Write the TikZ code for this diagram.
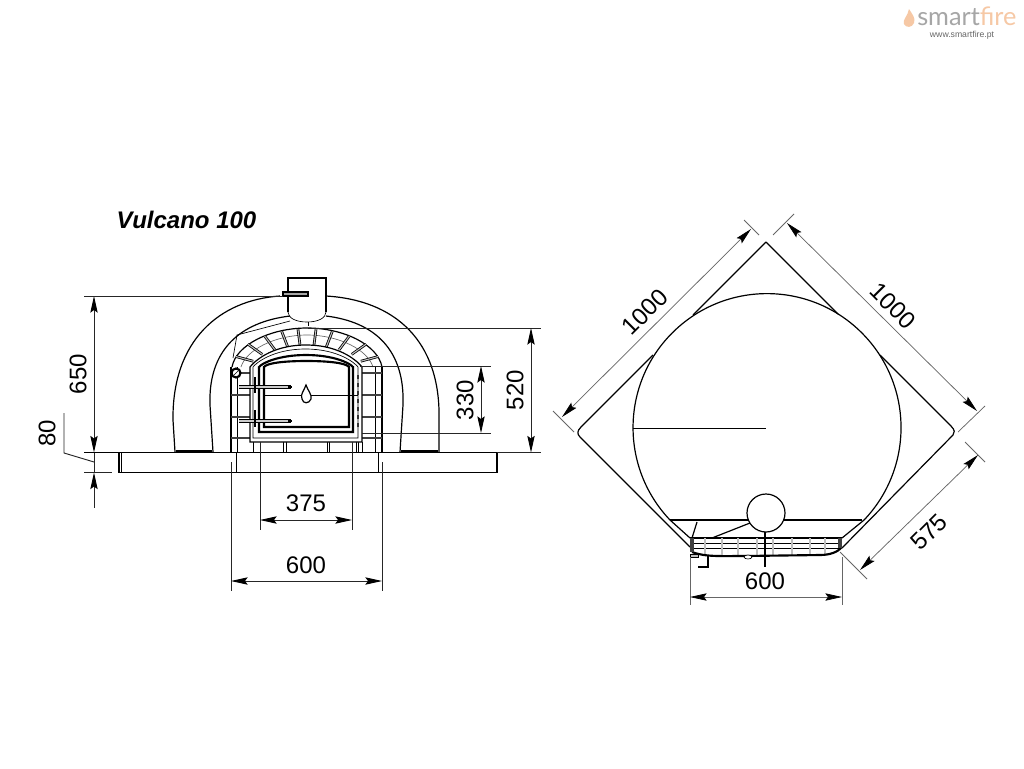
\documentclass[tikz,border=0pt]{standalone}
\usepackage{fontspec}
\setmainfont{Liberation Sans}
\newfontfamily\logofont{Lato}
\usetikzlibrary{arrows.meta}
\definecolor{logogray}{gray}{0.65}
\definecolor{logoorange}{RGB}{246,200,165}
\newcommand{\doorarch}[4]{(#1,#4) -- (#1,367) .. controls (#1+3,363) and (#1+20,#3) .. ({(#1+#2)/2},#3) .. controls (#2-20,#3) and (#2-3,363) .. (#2,367) -- (#2,#4) -- cycle}
\begin{document}
\begin{tikzpicture}[
    x=0.75pt, y=-0.75pt,
    >={Stealth[length=12.5pt,width=5.5pt,inset=2pt,black]},
    wall/.style={draw=black, line width=0.9pt},
    thin/.style={draw=black, line width=0.5pt},
    heavy/.style={draw=black, line width=1.6pt},
    joint/.style={draw=black, line width=0.6pt, double=black!25, double distance=0.8pt},
    rod/.style={draw=black, line width=0.8pt, double=black!20, double distance=0.9pt},
    sidebar/.style={draw=black!75, line width=2.2pt},
    extline/.style={draw=black!85, line width=0.7pt},
    dimline/.style={draw=black!85, line width=0.7pt, <->},
    planext/.style={draw=black!60, line width=0.55pt},
    planline/.style={draw=black!60, line width=0.55pt, <->},
    dimtext/.style={inner sep=0pt, font=\fontsize{18}{20}\selectfont}
]
\path[fill=white] (0,0) rectangle (1024,768);
\useasboundingbox (0,0) rectangle (1024,768);

% logo
\fill[logoorange] (909,9) .. controls (912,14) and (916,18) .. (914,23) .. controls (912,28) and (906,28) .. (904,24) .. controls (902,20) and (908,16) .. cycle;
\node[inner sep=0pt, anchor=base west, font=\logofont\fontsize{19}{22}\selectfont] (logo) at (917,25) {\textcolor{logogray}{smart}\textcolor{logoorange}{fire}};
\node[inner sep=0pt, anchor=base, text=black!60, font=\fontsize{6.5}{8}\selectfont] (logourl) at (962,37) {www.smartfire.pt};

% title
\node[inner sep=0pt, font=\fontsize{18}{20}\selectfont\bfseries\itshape] (title) at (186.5,220) {Vulcano 100};

% slab
\draw[wall] (84,452.5) -- (497,452.5) -- (497,472.5) -- (119,472.5) -- (119,452.5);
\draw[thin] (121.5,452.5) -- (121.5,472.5);
\draw[thin] (236,452.5) -- (236,472.5);
\draw[thin] (378,452.5) -- (378,472.5);

% dome
\draw[wall] (175,452) -- (173,420) .. controls (172,340) and (220,300) .. (280,296);
\draw[wall] (326,296) .. controls (394,300) and (441,340) .. (439,420) -- (439,452);
\draw[wall] (213,452) -- (210,405) .. controls (208,350) and (240,322) .. (290,316);
\draw[wall] (326,316) .. controls (375,322) and (405,350) .. (403,405) -- (400,452);
\draw[heavy] (176,451.5) -- (212,451.5);
\draw[heavy] (401,451.5) -- (438,451.5);
\draw[thin] (290,321) -- (237,335) -- (233,358);

% chimney
\draw[wall] (288,312) -- (288,278) -- (326,278) -- (326,312);
\draw[thin] (326,312) .. controls (326,318) and (318,322) .. (307,322) .. controls (296,322) and (288,318) .. (288,312);
\draw[thin] (308,322) -- (308,326);
\draw[wall, fill=black!35] (283,292) rectangle (308,296);

% brick arch
\draw[wall] (232,367) .. controls (236,345) and (270,328) .. (307,328) .. controls (344,328) and (378,345) .. (382,367);
\draw[thin, draw=black!60] (241,367) .. controls (246,350) and (275,335) .. (307,335) .. controls (339,335) and (368,350) .. (373,367);
\foreach \t in {16,37,55,70,83,97,110,125,143,164} {
    \draw[joint] ({307+74*cos(\t)},{367-38*sin(\t)}) -- ({307+56*cos(\t)},{367-21*sin(\t)});
}

% side bricks
\draw[wall] (231,367) -- (231,452.5);
\draw[thin] (237,367) -- (237,452.5);
\draw[wall] (382,367) -- (382,452.5);
\draw[thin] (375,367) -- (375,452.5);
\foreach \y in {373,395,417,438} {
    \draw[sidebar] (231,\y) -- (250,\y);
    \draw[sidebar] (362,\y) -- (382,\y);
}
\foreach \x in {253,260,283,286,327,329,356,358,362} {
    \draw[thin] (\x,442) -- (\x,452.5);
}

% door
\draw[wall, fill=white] \doorarch{250}{362}{345}{442};
\draw[thin] \doorarch{253}{358}{349}{438};
\draw[heavy] \doorarch{259}{353}{355}{432};
\draw[heavy] \doorarch{264}{349}{361}{427};
\draw[draw=black!80, line width=1.2pt, dashed] (358,375) -- (358,428);
\draw[thin] (264,395) -- (302,395);
\draw[thin] (311,395) -- (358,395);
\draw[wall, fill=white] (306,385) .. controls (304,391) and (300,394) .. (302,399) .. controls (303,404) and (309,404) .. (311,399) .. controls (312,394) and (308,391) .. cycle;
\foreach \y/\ya/\yb in {387/377/393,421/410/427} {
    \draw[rod] (239,\y) -- (291,\y);
    \draw[heavy] (288,\y) -- (292,\y);
    \draw[draw=black, line width=2.2pt] (255,\ya) -- (255,\yb);
}
\draw[heavy, fill=white] (236,373) circle (4.5);
\draw[thin] (234,375) -- (238,371);

% dimensions, front
\draw[dimline] (94,296) -- (94,452.5);
\draw[extline] (84,296) -- (283,296);
\node[dimtext, rotate=90] (d650) at (78,374) {650};
\draw[extline] (94,452.5) -- (94,472.5);
\draw[extline, <-] (94,472.5) -- (94,508);
\draw[extline] (84,472.5) -- (112,472.5);
\draw[extline] (64,413) -- (64,453) -- (94,462);
\node[dimtext, rotate=90] (d80) at (47,433) {80};

\draw[extline] (308,328) -- (541,328);
\draw[extline] (497,452.5) -- (541,452.5);
\draw[dimline] (531,328) -- (531,452.5);
\node[dimtext, rotate=90] (d520) at (515,390) {520};

\draw[extline] (360,366) -- (491,366);
\draw[extline] (362,433) -- (491,433);
\draw[dimline] (481,366) -- (481,433);
\node[dimtext, rotate=90] (d330) at (465,400) {330};

\draw[extline] (260,442) -- (260,530);
\draw[extline] (352,442) -- (352,530);
\draw[dimline] (260,520) -- (352,520);
\node[dimtext] (d375) at (306,503) {375};

\draw[extline] (231,462) -- (231,591);
\draw[extline] (382,462) -- (382,591);
\draw[dimline] (231,581) -- (382,581);
\node[dimtext] (d600) at (306,565) {600};

% plan outline
\draw[wall] (766,242) -- (693,315);
\draw[wall] (653,355) -- (581,427) .. controls (577,431) and (577,434) .. (580,437) -- (690,547);
\draw[wall] (766,242) -- (838,314);
\draw[wall] (880,355) -- (951,426) .. controls (955,430) and (955,433) .. (953,435) -- (842,548);
\draw[wall] (670,520) arc[start angle=136.4, end angle=403.6, radius=134] -- (842,538);
\draw[wall] (670,520) -- (690,538);
\draw[wall] (670,520) -- (862,520);
\draw[thin] (633,428) -- (766,428);

% plan door
\draw[wall, fill=white] (766,513) circle (19);
\draw[wall] (697,522) -- (692,538);
\draw[wall] (750,523) -- (712,538);
\draw[wall] (690,538) -- (842,538);
\draw[thin] (691,543) -- (841,543);
\draw[thin] (691,548) -- (841,548);
\foreach \x in {705,722,738,757,773,792,810,825} {
    \draw[joint] (\x,538) -- (\x,555);
}
\draw[heavy] (692,552) .. controls (705,557) and (720,556) .. (745,556) -- (820,555) .. controls (830,555) and (838,552) .. (842,547);
\draw[draw=black!75, line width=2.5pt] (692,538) -- (692,552);
\draw[draw=black!75, line width=2.5pt] (840,538) -- (840,548);
\draw[thin, fill=black!25] (690,554) rectangle (698,557);
\draw[wall] (708,555) -- (708,567) -- (698,567);
\draw[thin, fill=white] (748,557) ellipse (4 and 2);
\draw[draw=black, line width=1.3pt] (765,532) -- (765,567);

% dimensions, plan
\draw[planext] (690,557) -- (690,605);
\draw[planext] (842,557) -- (842,605);
\draw[planline] (690,597) -- (842,597);
\node[dimtext] (p600) at (765,581) {600};

\draw[planext] (553,411) -- (574,432);
\draw[planext] (744,220) -- (759,235);
\draw[planline] (562,417) -- (751,229);
\node[dimtext, rotate=45] (p1000a) at (645,312) {1000};

\draw[planext] (794,214) -- (773,235);
\draw[planext] (985,406) -- (958,432);
\draw[planline] (787,223) -- (977,411);
\node[dimtext, rotate=-45] (p1000b) at (893,306) {1000};

\draw[planext] (965,442) -- (985,462);
\draw[planext] (840,552) -- (867,579);
\draw[planline] (860,570) -- (978,455);
\node[dimtext, rotate=45] (p575) at (929,532) {575};
\end{tikzpicture}
\end{document}
